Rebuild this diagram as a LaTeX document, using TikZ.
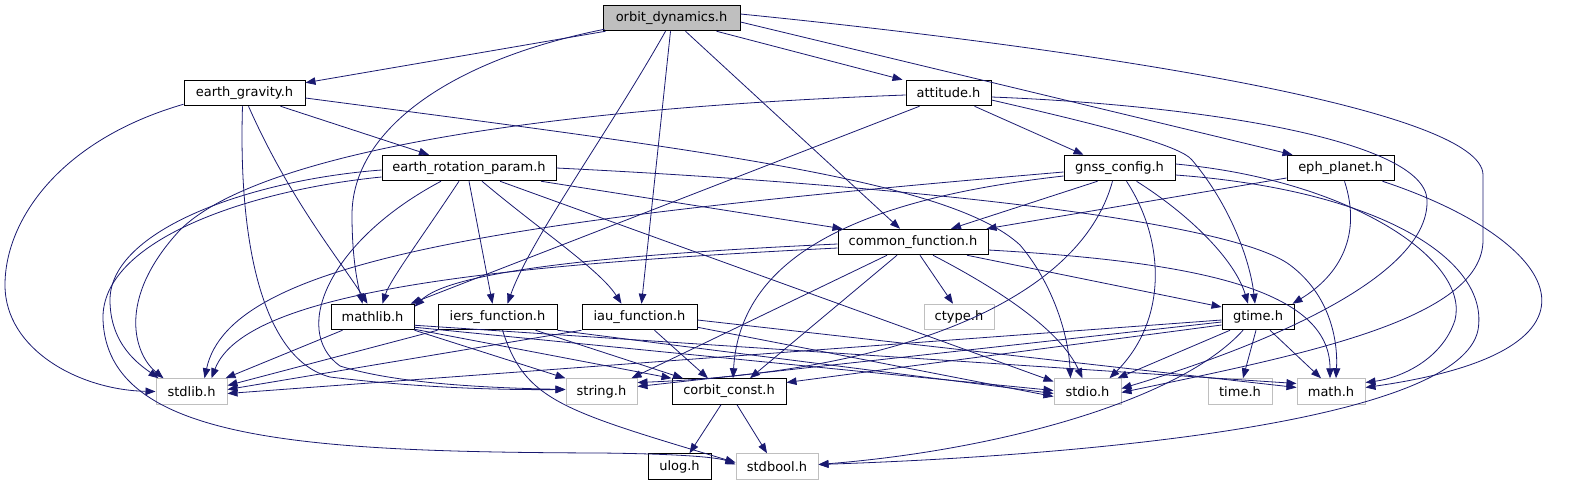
\documentclass[tikz,border=0pt]{standalone}
\usepackage{fontspec}
\setmainfont{DejaVu Sans}
\usetikzlibrary{arrows.meta}
\definecolor{edgeblue}{HTML}{191970}
\definecolor{sysgray}{HTML}{BFBFBF}
\begin{document}
\begin{tikzpicture}[x=1pt,y=-1pt,
  fbox/.style={draw=black,line width=1pt,minimum height=25.5pt,inner sep=0pt,font=\fontsize{13}{15}\selectfont},
  sbox/.style={draw=sysgray,line width=1pt,minimum height=25.5pt,inner sep=0pt,font=\fontsize{13}{15}\selectfont},
  e/.style={draw=edgeblue,line width=0.8pt,-{Triangle[length=10pt,width=7.5pt]},edgeblue}]
\useasboundingbox (0,0) rectangle (1571,485);
% nodes
\node[fbox,fill=sysgray,minimum width=137pt] (O) at (671.5,18) {orbit\_dynamics.h};
\node[fbox,minimum width=121pt] (EG) at (244.5,93) {earth\_gravity.h};
\node[fbox,minimum width=174pt] (ERP) at (469,168) {earth\_rotation\_param.h};
\node[fbox,minimum width=85pt] (AT) at (948.5,93) {attitude.h};
\node[fbox,minimum width=111pt] (GNSS) at (1119.5,168) {gnss\_config.h};
\node[fbox,minimum width=107pt] (EP) at (1340.5,168) {eph\_planet.h};
\node[fbox,minimum width=150pt] (CF) at (913,242) {common\_function.h};
\node[fbox,minimum width=83pt] (ML) at (372.5,317) {mathlib.h};
\node[fbox,minimum width=119pt] (IERS) at (497.5,317) {iers\_function.h};
\node[fbox,minimum width=115pt] (IAU) at (639.5,317) {iau\_function.h};
\node[sbox,minimum width=70pt] (CTYPE) at (959,317) {ctype.h};
\node[fbox,minimum width=72pt] (GTIME) at (1258,317) {gtime.h};
\node[sbox,minimum width=71pt] (STDLIB) at (191.5,391.5) {stdlib.h};
\node[sbox,minimum width=71pt] (STRING) at (601.5,391.5) {string.h};
\node[fbox,minimum width=114pt] (CORBIT) at (729,391.5) {corbit\_const.h};
\node[sbox,minimum width=67pt] (STDIO) at (1087.5,391.5) {stdio.h};
\node[sbox,minimum width=64pt] (TIME) at (1240,391.5) {time.h};
\node[sbox,minimum width=68pt] (MATH) at (1331,391.5) {math.h};
\node[fbox,minimum width=63pt] (ULOG) at (679.5,466.5) {ulog.h};
\node[sbox,minimum width=82pt] (STDBOOL) at (777,466.5) {stdbool.h};
% orbit_dynamics.h
\draw[e] ([xshift=-66pt]O.south) -- ([yshift=-3pt]EG.north east);
\draw[e] ([xshift=45pt]O.south) -- ([xshift=-3pt]AT.north west);
\draw[e] ([yshift=-4pt]O.east) -- ([xshift=6pt]EP.north west);
\draw[e] ([yshift=4pt]O.east) .. controls (1100,50) and (1483,110) .. (1483,175) -- (1483,240) .. controls (1483,320) and (1300,355) .. ([yshift=-1pt]STDIO.east);
\draw[e] ([xshift=2pt,yshift=2pt]O.south west) .. controls (450,60) and (352,130) .. (352,215) .. controls (352,260) and (358,285) .. ([xshift=-10pt]ML.north);
\draw[e] ([xshift=-6pt]O.south) .. controls (610,130) and (530,240) .. ([xshift=10pt]IERS.north);
\draw[e] ([xshift=-1pt]O.south) -- ([xshift=2pt]IAU.north);
\draw[e] ([xshift=14pt]O.south) -- ([xshift=-13pt]CF.north);
% earth_gravity.h
\draw[e] ([xshift=36pt]EG.south) -- ([xshift=-40pt]ERP.north);
\draw[e] ([yshift=2pt]EG.south west) .. controls (60,140) and (5,220) .. (5,285) .. controls (5,350) and (80,390) .. (STDLIB.west);
\draw[e] ([xshift=-2pt]EG.south) .. controls (238,250) and (265,360) .. (330,377) .. controls (420,388) and (500,390) .. ([yshift=2pt]STRING.west);
\draw[e] ([xshift=4pt]EG.south) .. controls (290,200) and (340,260) .. ([xshift=-5pt]ML.north);
\draw[e] ([yshift=-5pt]EG.east) .. controls (700,150) and (950,180) .. (1020,245) .. controls (1050,280) and (1068,330) .. ([xshift=-17pt]STDIO.north);
% earth_rotation_param.h
\draw[e] ([yshift=-2pt]ERP.west) .. controls (250,180) and (110,230) .. (110,300) .. controls (110,345) and (140,365) .. ([xshift=-33pt]STDLIB.north);
\draw[e] ([yshift=-9pt]ERP.west) .. controls (250,190) and (100,240) .. (103,320) .. controls (108,440) and (300,452) .. (600,453) .. controls (690,454) and (720,458) .. ([yshift=2pt]STDBOOL.west);
\draw[e] ([xshift=-28pt]ERP.south) .. controls (330,240) and (290,330) .. (340,366) .. controls (400,385) and (500,388) .. ([yshift=2pt]STRING.west);
\draw[e] ([xshift=-10pt]ERP.south) .. controls (420,240) and (390,280) .. ([xshift=10pt]ML.north);
\draw[e] (ERP.south) -- ([xshift=-5pt]IERS.north);
\draw[e] ([xshift=13pt]ERP.south) .. controls (540,230) and (600,270) .. ([xshift=-18pt]IAU.north);
\draw[e] ([xshift=31pt]ERP.south) -- ([yshift=10pt]STDIO.west);
\draw[e] ([xshift=72pt]ERP.south) -- ([xshift=5pt]CF.north west);
\draw[e] (ERP.east) .. controls (900,185) and (1230,220) .. (1290,265) .. controls (1330,295) and (1338,340) .. ([xshift=5pt]MATH.north);
% attitude.h
\draw[e] ([yshift=-2pt]AT.west) .. controls (500,110) and (250,160) .. (180,230) .. controls (115,300) and (135,355) .. ([xshift=-28pt]STDLIB.north);
\draw[e] ([xshift=-29pt]AT.south) -- ([xshift=-4pt]ML.north east);
\draw[e] ([xshift=26pt]AT.south) -- ([xshift=-36pt]GNSS.north);
\draw[e] ([yshift=-7pt]AT.east) .. controls (1100,125) and (1180,145) .. (1192,160) .. controls (1230,205) and (1250,260) .. ([xshift=-3pt]GTIME.north);
\draw[e] ([yshift=-4pt]AT.east) .. controls (1200,105) and (1425,140) .. (1427,200) .. controls (1430,280) and (1250,350) .. ([yshift=3pt]STDIO.east);
% gnss_config.h
\draw[e] ([yshift=-4pt]GNSS.west) .. controls (500,220) and (230,260) .. ([xshift=13pt]STDLIB.north);
\draw[e] ([xshift=-22pt]GNSS.south) -- ([xshift=38pt]CF.north);
\draw[e] ([yshift=-8pt]GNSS.west) .. controls (850,200) and (740,260) .. ([xshift=4pt]CORBIT.north);
\draw[e] ([xshift=-7pt]GNSS.south) .. controls (1080,300) and (900,372) .. ([yshift=9pt]STRING.east);
\draw[e] ([xshift=7pt]GNSS.south) .. controls (1165,240) and (1168,320) .. ([xshift=22pt]STDIO.north);
\draw[e] ([xshift=17pt]GNSS.south) .. controls (1190,215) and (1235,260) .. ([xshift=-10pt]GTIME.north);
\draw[e] ([yshift=4pt]GNSS.east) .. controls (1350,180) and (1470,260) .. (1455,320) .. controls (1442,360) and (1400,378) .. ([yshift=9pt]MATH.east);
\draw[e] ([yshift=-7pt]GNSS.east) .. controls (1380,190) and (1490,260) .. (1478,330) .. controls (1460,420) and (1100,455) .. ([yshift=2pt]STDBOOL.east);
% eph_planet.h
\draw[e] ([yshift=-10pt]EP.west) -- ([xshift=-2pt]CF.north east);
\draw[e] ([xshift=4pt]EP.south) .. controls (1362,235) and (1340,275) .. ([xshift=-2pt]GTIME.north east);
\draw[e] ([xshift=42pt]EP.south) .. controls (1560,240) and (1630,350) .. ([yshift=4pt]MATH.east);
% common_function.h
\draw[e] ([yshift=-6pt]CF.west) .. controls (500,265) and (245,290) .. ([xshift=20pt]STDLIB.north);
\draw[e] ([yshift=-2pt]CF.west) .. controls (600,255) and (450,272) .. ([yshift=-3pt]ML.north east);
\draw[e] ([xshift=-26pt]CF.south) -- ([xshift=-6pt]STRING.north east);
\draw[e] ([xshift=-16pt]CF.south) -- ([xshift=21pt]CORBIT.north);
\draw[e] ([xshift=7pt]CF.south) -- ([xshift=-6pt]CTYPE.north);
\draw[e] ([xshift=20pt]CF.south) .. controls (1000,290) and (1060,330) .. ([xshift=-5pt]STDIO.north);
\draw[e] ([xshift=54pt]CF.south) -- ([yshift=10pt]GTIME.west);
\draw[e] ([yshift=-8pt]CF.east) .. controls (1200,262) and (1330,290) .. ([xshift=-1pt]MATH.north);
% mathlib.h
\draw[e] ([xshift=-30pt]ML.south) -- ([xshift=-2pt]STDLIB.north east);
\draw[e] (ML.south east) -- (STRING.north west);
\draw[e] ([yshift=1pt]ML.south east) -- (CORBIT.north west);
\draw[e] ([yshift=3pt]ML.south east) -- ([yshift=1pt]STDIO.west);
\draw[e] ([yshift=5pt]ML.south east) -- ([yshift=8pt]MATH.west);
% iers_function.h
\draw[e] (IERS.south west) -- ([yshift=6pt]STDLIB.east);
\draw[e] ([xshift=5pt]IERS.south) .. controls (525,400) and (560,410) .. ([yshift=4pt]STDBOOL.west);
\draw[e] ([xshift=38pt]IERS.south) -- ([xshift=-46pt]CORBIT.north);
\draw[e] (IERS.south east) -- ([yshift=-2pt]STDIO.west);
% iau_function.h
\draw[e] (IAU.south west) -- ([yshift=2pt]STDLIB.east);
\draw[e] ([xshift=15pt]IAU.south) -- ([xshift=-21pt]CORBIT.north);
\draw[e] ([yshift=3pt]IAU.south east) -- ([yshift=-5pt]STDIO.west);
\draw[e] ([yshift=-3pt]IAU.east) -- ([yshift=4pt]MATH.west);
% gtime.h
\draw[e] ([yshift=-3pt]GTIME.west) -- ([yshift=-2pt]STDLIB.east);
\draw[e] ([yshift=-5pt]GTIME.west) -- ([yshift=5pt]STRING.east);
\draw[e] ([yshift=-8pt]GTIME.west) -- ([yshift=9pt]CORBIT.east);
\draw[e] ([xshift=-28pt]GTIME.south) -- ([xshift=30pt]STDIO.north);
\draw[e] ([xshift=-15pt]GTIME.south) .. controls (1180,400) and (1000,450) .. ([yshift=2pt]STDBOOL.east);
\draw[e] ([xshift=-2pt]GTIME.south) -- ([xshift=3pt]TIME.north);
\draw[e] ([xshift=12pt]GTIME.south) -- ([xshift=-10pt]MATH.north);
% corbit_const.h
\draw[e] ([xshift=-8pt]CORBIT.south) -- ([xshift=10pt]ULOG.north);
\draw[e] ([xshift=8pt]CORBIT.south) -- ([xshift=-10pt]STDBOOL.north);
\end{tikzpicture}
\end{document}
